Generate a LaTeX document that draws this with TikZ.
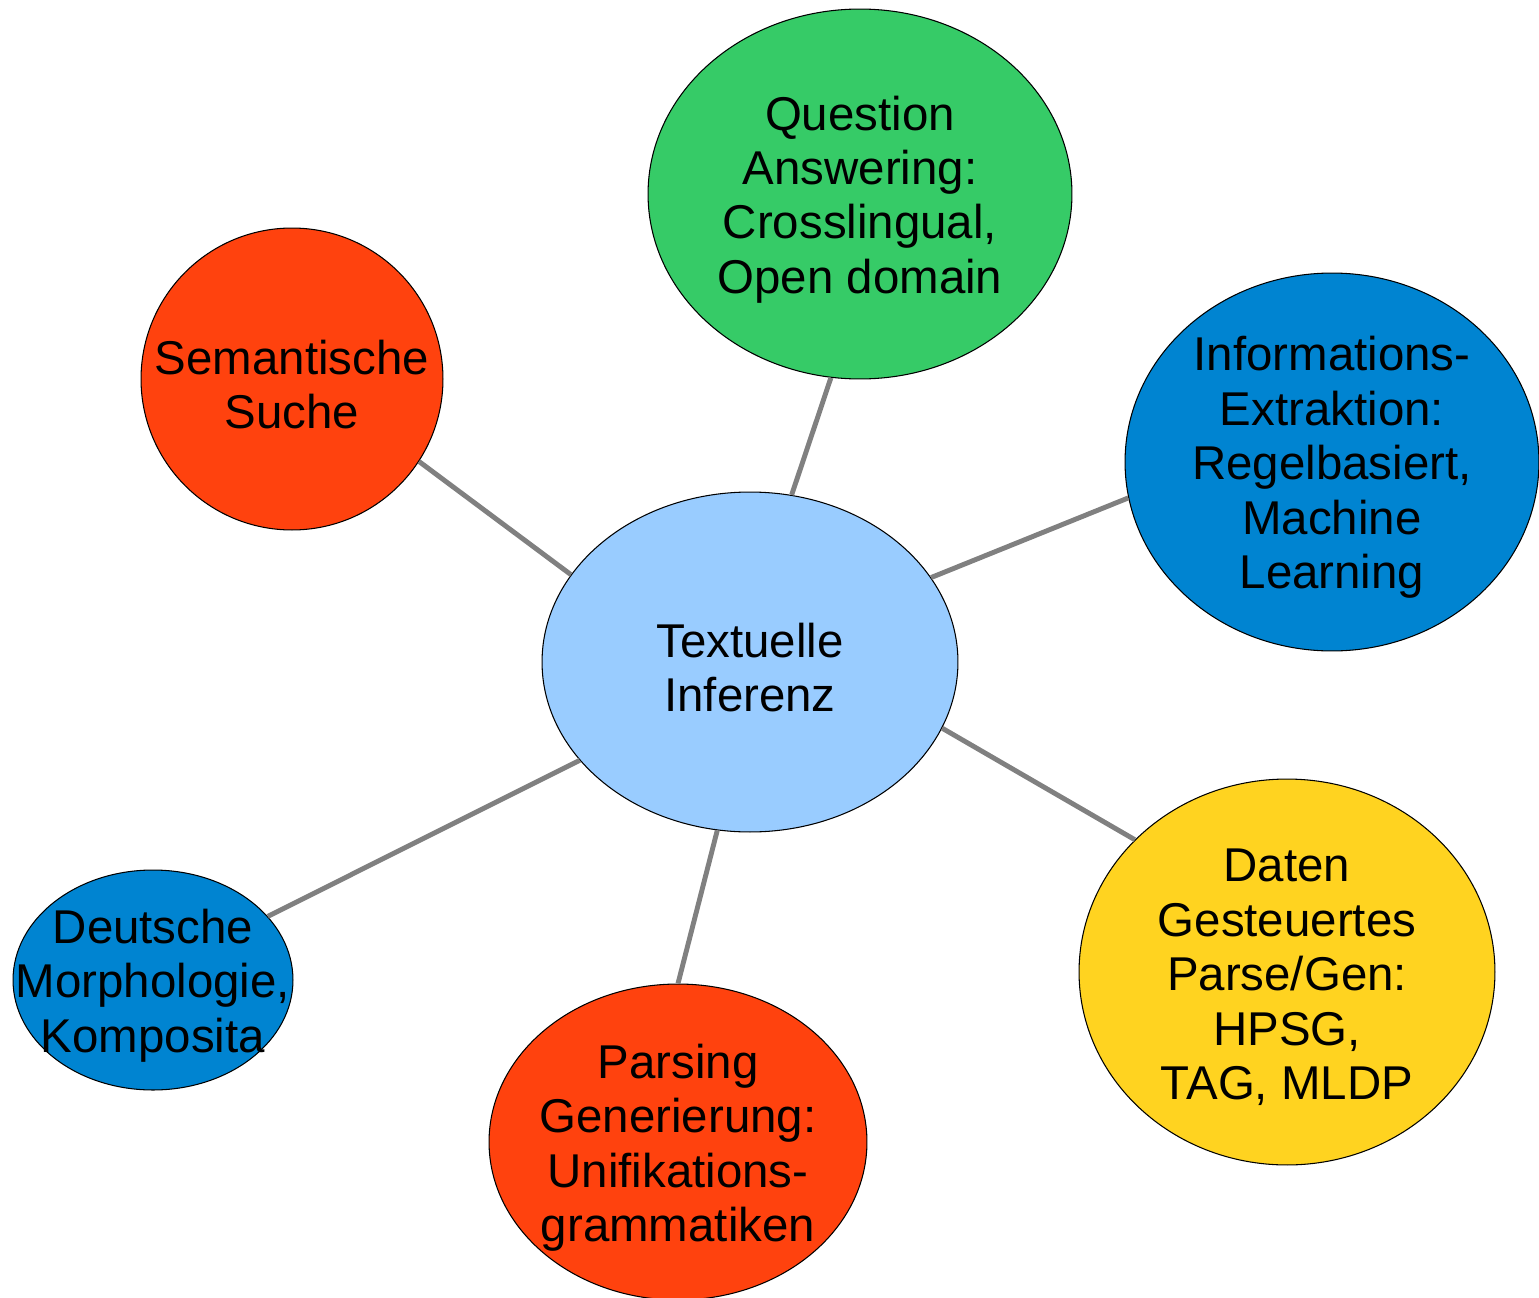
\documentclass[tikz,border=0pt]{standalone}
\usepackage{fontspec}
\setmainfont{Liberation Sans}
\usetikzlibrary{shapes.geometric}

\definecolor{bgreen}{HTML}{36CB67}
\definecolor{bred}{HTML}{FF420E}
\definecolor{bblue}{HTML}{0084D1}
\definecolor{byellow}{HTML}{FFD320}
\definecolor{blight}{HTML}{99CCFF}

\tikzset{
  bubble/.style={draw=black,ellipse,inner sep=0pt,line width=0.6pt},
  txt/.style={align=center,yshift=-0.11cm,font=\fontsize{27}{31}\selectfont},
  link/.style={draw=gray,line width=2.8pt}
}

\begin{document}
\begin{tikzpicture}[x=0.02cm,y=-0.02cm]
  \useasboundingbox (0,0) rectangle (1539,1298);

  \node[bubble,fill=blight,minimum width=8.32cm,minimum height=6.8cm] (C) at (750,662) {};
  \node[bubble,fill=bgreen,minimum width=8.48cm,minimum height=7.4cm] (Q) at (860,194) {};
  \node[bubble,fill=bred,minimum width=6.04cm,minimum height=6.04cm] (S) at (292,379) {};
  \node[bubble,fill=bblue,minimum width=8.28cm,minimum height=7.56cm] (I) at (1332,462) {};
  \node[bubble,fill=byellow,minimum width=8.32cm,minimum height=7.72cm] (D) at (1287,972) {};
  \node[bubble,fill=bred,minimum width=7.56cm,minimum height=6.32cm] (P) at (678,1142) {};
  \node[bubble,fill=bblue,minimum width=5.6cm,minimum height=4.4cm] (M) at (153,980) {};

  \node[txt] (Ct) at (C) {Textuelle\\Inferenz};
  \node[txt] (Qt) at (Q) {Question\\Answering:\\Crosslingual,\\Open domain};
  \node[txt] (St) at (S) {Semantische\\Suche};
  \node[txt] (It) at (I) {Informations-\\Extraktion:\\Regelbasiert,\\Machine\\Learning};
  \node[txt] (Dt) at (D) {Daten\\Gesteuertes\\Parse/Gen:\\HPSG,\\TAG, MLDP};
  \node[txt] (Pt) at (P) {Parsing\\Generierung:\\Unifikations-\\grammatiken};
  \node[txt] (Mt) at (M) {Deutsche\\Morphologie,\\Komposita};

  \draw[link] (C.76) -- (Q.261);
  \draw[link] (C.154) -- (S.327);
  \draw[link] (C.25) -- (I.190);
  \draw[link] (C.341) -- (D.139);
  \draw[link] (C.259) -- (P.90);
  \draw[link] (C.210) -- (M.29);

\end{tikzpicture}
\end{document}
